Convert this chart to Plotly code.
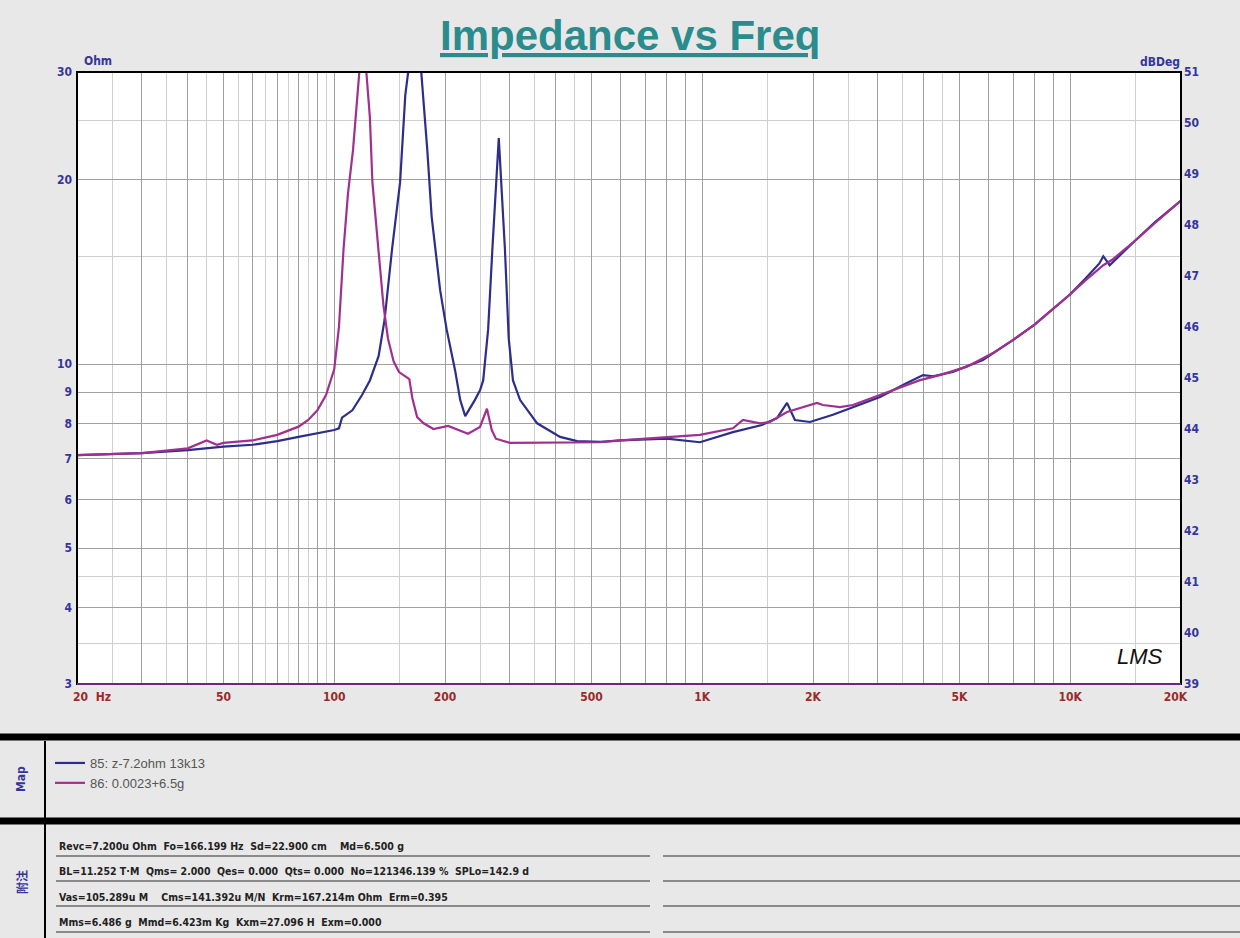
import math
import plotly.graph_objects as go

# ---------------- data ----------------
freq_blue = [20, 30, 40, 50, 60, 70, 80, 90, 100, 103, 105, 112, 119, 125, 132, 137,
             143.6, 151, 156, 161, 166, 172, 179, 184, 188, 194, 202, 213, 220, 227,
             241, 249, 254, 262, 269, 280, 291, 298, 306, 320, 356, 411, 457, 528,
             600, 800, 986, 1212, 1453, 1596, 1700, 1786, 1962, 2265, 2568, 3042,
             3598, 3982, 4238, 4798, 5790, 7000, 8000, 9000, 10000, 11000, 12000,
             12300, 12800, 15000, 17000, 20000]
imp_blue = [7.1, 7.15, 7.23, 7.33, 7.38, 7.48, 7.6, 7.7, 7.8, 7.85, 8.17, 8.4, 8.9, 9.4, 10.3, 11.8,
            15.4, 19.8, 27.5, 32.0, 35.0, 30.5, 22.4, 17.4, 15.4, 13.2, 11.4, 9.77, 8.73, 8.22,
            8.73, 9.06, 9.4, 11.4, 15.4, 23.4, 15.4, 11.0, 9.4, 8.73, 8.0, 7.6, 7.48, 7.46,
            7.5, 7.55, 7.45, 7.74, 7.95, 8.16, 8.64, 8.1, 8.04, 8.26, 8.5, 8.83,
            9.31, 9.59, 9.55, 9.71, 10.15, 10.95, 11.6, 12.3, 13.0, 13.8, 14.6,
            15.0, 14.5, 15.9, 17.05, 18.5]

freq_mag = [20, 30, 40, 45, 48, 50, 60, 70, 80, 85, 90, 95, 100, 103, 106, 109,
            112.5, 116, 119, 122, 125, 127, 131.6, 136, 140, 145, 150, 156, 160, 163,
            168, 175, 186, 204, 231, 249, 260, 268, 275, 300, 400, 528, 600, 800,
            986, 1212, 1290, 1436, 1528, 1700, 2050, 2128, 2368, 2568, 3042, 3906,
            4426, 5238, 6166, 7000, 8000, 9000, 10000, 11000, 12300, 13000, 15000,
            17000, 20000]
imp_mag = [7.1, 7.15, 7.28, 7.5, 7.38, 7.43, 7.5, 7.66, 7.9, 8.1, 8.4, 8.9, 9.8, 11.5, 15.4, 19.0,
           22.4, 28.8, 34.0, 30.5, 25.3, 19.8, 15.4, 12.5, 11.0, 10.1, 9.7, 9.55, 9.45, 8.8,
           8.19, 8.0, 7.83, 7.92, 7.69, 7.89, 8.45, 7.8, 7.55, 7.43, 7.43, 7.45, 7.5, 7.6,
           7.66, 7.85, 8.1, 8.0, 8.04, 8.35, 8.64, 8.57, 8.5, 8.57, 8.9, 9.41,
           9.59, 9.9, 10.42, 10.95, 11.6, 12.3, 13.0, 13.7, 14.5, 14.8, 15.9,
           17.0, 18.5]

name_blue = "85: z-7.2ohm 13k13"
name_mag = "86: 0.0023+6.5g"

x_label_vals = [20, 50, 100, 200, 500, 1000, 2000, 5000, 10000, 20000]
x_label_text = ["\u00a0\u00a0\u00a0\u00a0\u00a0\u00a0\u00a0\u00a020  Hz", "50", "100", "200", "500",
                "1K", "2K", "5K", "10K", "20K\u00a0\u00a0\u00a0"]
x_major_grid = [30, 40, 60, 70, 80, 90, 300, 400, 600, 700, 800, 900,
                3000, 4000, 6000, 7000, 8000, 9000]
x_minor_grid = [25, 35, 45, 55, 65, 75, 85, 95, 150, 250, 350, 450,
                1500, 2500, 3500, 4500, 15000]

y_label_vals = [3, 4, 5, 6, 7, 8, 9, 10, 20, 30]
y_minor_grid = [3.5, 4.5, 15, 25]
y2_vals = list(range(39, 52))

notes = [
    "Revc=7.200u Ohm  Fo=166.199 Hz  Sd=22.900 cm    Md=6.500 g",
    "BL=11.252 T\u00b7M  Qms= 2.000  Qes= 0.000  Qts= 0.000  No=121346.139 %  SPLo=142.9 d",
    "Vas=105.289u M    Cms=141.392u M/N  Krm=167.214m Ohm  Erm=0.395",
    "Mms=6.486 g  Mmd=6.423m Kg  Kxm=27.096 H  Exm=0.000",
]

# ---------------- geometry ----------------
W, H = 1240, 938
L, R, T, B = 77, 1181, 72, 684
BG = "#e8e8e8"


def px_x(px):
    return (px - L) / (R - L)


def px_y(py):
    return (B - py) / (B - T)


BLUE = "#2d2d8c"
MAG = "#a0308f"
NAVY = "#35359a"
RED = "#9b2a2a"
NARROW = "Liberation Sans Narrow, Arial Narrow, DejaVu Sans Condensed, sans-serif"

fig = go.Figure()
fig.add_trace(go.Scatter(x=freq_blue, y=imp_blue, mode="lines", name=name_blue,
                         line=dict(color=BLUE, width=2.2)))
fig.add_trace(go.Scatter(x=freq_mag, y=imp_mag, mode="lines", name=name_mag,
                         line=dict(color=MAG, width=2.2)))
fig.add_trace(go.Scatter(x=[None], y=[None], yaxis="y2", showlegend=False,
                         hoverinfo="skip"))

x_tickvals = x_label_vals + x_major_grid
x_ticktext = x_label_text + [""] * len(x_major_grid)

fig.update_layout(
    width=W, height=H,
    margin=dict(l=L, r=W - R, t=T, b=H - B, pad=0),
    paper_bgcolor=BG,
    plot_bgcolor="white",
    xaxis=dict(type="log", range=[math.log10(20), math.log10(20000)],
               tickmode="array", tickvals=x_tickvals, ticktext=x_ticktext,
               showgrid=True, gridcolor="#a0a0a0", gridwidth=1,
               minor=dict(tickmode="array", tickvals=x_minor_grid, showgrid=True,
                          gridcolor="#cfcfcf", gridwidth=1, ticks=""),
               ticks="", showline=False, zeroline=False,
               tickfont=dict(family=NARROW, size=12, color=RED, weight="bold"),
               ticklabelstandoff=4),
    yaxis=dict(type="log", range=[math.log10(3), math.log10(30)],
               tickmode="array", tickvals=y_label_vals,
               ticktext=[str(v) for v in y_label_vals],
               showgrid=True, gridcolor="#a0a0a0", gridwidth=1,
               minor=dict(tickmode="array", tickvals=y_minor_grid, showgrid=True,
                          gridcolor="#cfcfcf", gridwidth=1, ticks=""),
               ticks="", showline=False, zeroline=False,
               tickfont=dict(family=NARROW, size=12, color=NAVY, weight="bold"),
               ticklabelstandoff=4),
    yaxis2=dict(overlaying="y", side="right", range=[39, 51],
                tickmode="array", tickvals=y2_vals, showgrid=False, zeroline=False,
                ticks="", showline=False,
                tickfont=dict(family=NARROW, size=12, color=NAVY, weight="bold"),
                ticklabelstandoff=2),
    showlegend=True,
    legend=dict(x=px_x(50), y=px_y(748), xanchor="left", yanchor="top",
                bgcolor="rgba(0,0,0,0)", borderwidth=0,
                font=dict(family="Liberation Sans, Arial, sans-serif", size=13, color="#555555"),
                itemwidth=30, tracegroupgap=0),
    hovermode=False,
)

shapes = []
# plot frame
shapes.append(dict(type="rect", xref="paper", yref="paper", x0=0, x1=1, y0=0, y1=1,
                   line=dict(color="black", width=2), layer="above"))
shapes.append(dict(type="line", xref="paper", yref="paper", x0=0, x1=1, y0=0, y1=0,
                   line=dict(color="#6a2a78", width=2), layer="above"))
# thick separator bars
for yc in (737, 821):
    shapes.append(dict(type="line", xref="paper", yref="paper",
                       x0=px_x(0), x1=px_x(W), y0=px_y(yc), y1=px_y(yc),
                       line=dict(color="black", width=7)))
# vertical divider of bottom panels
shapes.append(dict(type="line", xref="paper", yref="paper",
                   x0=px_x(45), x1=px_x(45), y0=px_y(741), y1=px_y(H),
                   line=dict(color="black", width=2)))
# note rule lines
for yl in (856, 881, 906, 932):
    shapes.append(dict(type="line", xref="paper", yref="paper",
                       x0=px_x(56), x1=px_x(650), y0=px_y(yl), y1=px_y(yl),
                       line=dict(color="#8a8a8a", width=2)))
    shapes.append(dict(type="line", xref="paper", yref="paper",
                       x0=px_x(663), x1=px_x(W), y0=px_y(yl), y1=px_y(yl),
                       line=dict(color="#8a8a8a", width=2)))
fig.update_layout(shapes=shapes)

ann = []
ann.append(dict(text="<b><u>Impedance vs Freq</u></b>", x=px_x(630), y=px_y(36),
                xref="paper", yref="paper", showarrow=False, yanchor="middle", xanchor="center",
                font=dict(family="Liberation Sans, Arial, sans-serif", size=42, color="#2a8c8c")))
ann.append(dict(text="<b>Ohm</b>", x=px_x(82), y=px_y(61), xref="paper", yref="paper",
                xanchor="left", yanchor="middle", showarrow=False,
                font=dict(family=NARROW, size=12, color=NAVY)))
ann.append(dict(text="<b>dBDeg</b>", x=px_x(1182), y=px_y(62), xref="paper", yref="paper",
                xanchor="right", yanchor="middle", showarrow=False,
                font=dict(family=NARROW, size=12, color=NAVY)))
ann.append(dict(text="<i>LMS</i>", x=px_x(1140), y=px_y(656), xref="paper", yref="paper",
                showarrow=False, yanchor="middle", xanchor="center",
                font=dict(family="Liberation Sans, Arial, sans-serif", size=22, color="#111111")))
ann.append(dict(text="<b>Map</b>", x=px_x(21), y=px_y(779), xref="paper", yref="paper",
                showarrow=False, textangle=-90, yanchor="middle", xanchor="center",
                font=dict(family=NARROW, size=12, color=NAVY)))
ann.append(dict(text="<b>附注</b>", x=px_x(21), y=px_y(882), xref="paper", yref="paper",
                showarrow=False, textangle=-90, yanchor="middle", xanchor="center",
                font=dict(family="Noto Sans CJK SC, sans-serif", size=12, color=NAVY)))
for i, t in enumerate(notes):
    ann.append(dict(text="<b>" + t + "</b>", x=px_x(57), y=px_y(846 + i * 25.3),
                    xref="paper", yref="paper", xanchor="left", yanchor="middle",
                    showarrow=False,
                    font=dict(family=NARROW, size=10.5, color="#222222")))
fig.update_layout(annotations=ann)

fig.write_html(
    "out.html",
    config={"displayModeBar": False},
    post_script="document.body.style.margin='0';"
                "document.body.style.overflow='hidden';"
                "document.body.style.background='" + BG + "';",
)
